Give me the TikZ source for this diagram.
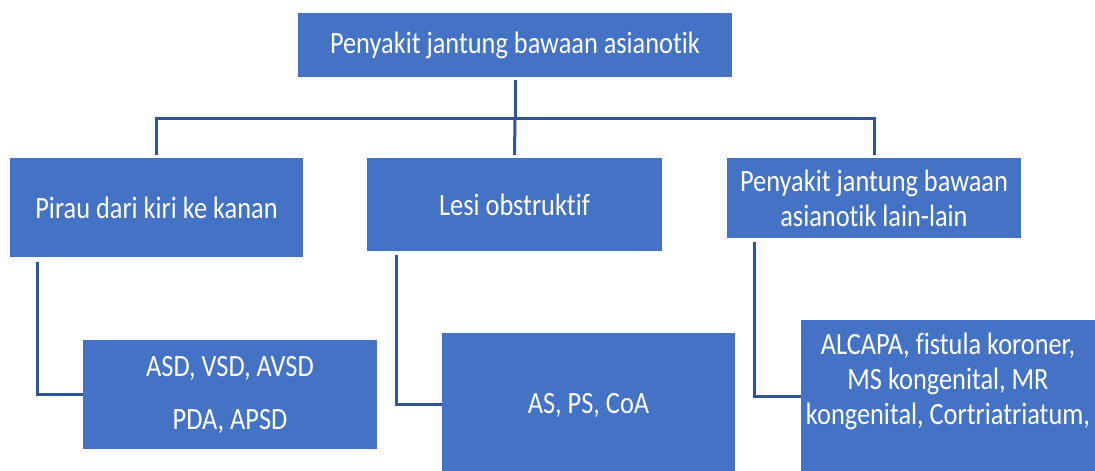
\documentclass[tikz,border=0pt]{standalone}
\usepackage{fontspec}
\setmainfont{Carlito}[FakeStretch=0.85, Ligatures={NoCommon}]
\definecolor{boxblue}{HTML}{4472C4}
\definecolor{lineblue}{HTML}{2F5597}
\tikzset{
  box/.style={fill=boxblue, draw=none, text=white, align=center, inner sep=0pt,
    font=\fontsize{31}{35}\selectfont},
  link/.style={draw=lineblue, line width=3pt},
}
\begin{document}
\begin{tikzpicture}[x=1pt,y=1pt]
\useasboundingbox (0,0) rectangle (1095,471);
\clip (0,0) rectangle (1095,471);

% root of the tree
\node[box, minimum width=434pt, minimum height=64pt] (root) at (515,426)
  {Penyakit jantung bawaan asianotik};

% second level
\node[box, minimum width=293pt, minimum height=99pt] (pirau) at (156.5,263.5)
  {Pirau dari kiri ke kanan};
\node[box, minimum width=295pt, minimum height=93pt] (lesi) at (514.5,266.5)
  {Lesi obstruktif};
\node[box, minimum width=294pt, minimum height=80pt] (lain) at (874,273)
  {Penyakit jantung bawaan\\asianotik lain-lain};

% third level
\node[box, minimum width=294pt, minimum height=109pt] (asd) at (230,76.5)
  {ASD, VSD, AVSD\\[18pt]PDA, APSD};
\node[box, minimum width=293pt, minimum height=144pt] (as) at (588.5,66)
  {AS, PS, CoA};
\node[box, minimum width=294pt, minimum height=154pt] (alcapa) at (948,74)
  {\raisebox{14pt}[\height][\depth]{\begin{tabular}{@{}c@{}}ALCAPA, fistula koroner,\\MS kongenital, MR\\kongenital, Cortriatriatum,\end{tabular}}};

% connectors from the root to the second level
\draw[link] ([yshift=-3pt]root.south) -- ++(0,-38) coordinate (hub);
\draw[link] ([yshift=3pt]pirau.north) |- (hub) -| ([yshift=3pt]lain.north);
\draw[link] (hub) -- ([yshift=3pt]lesi.north);

% elbow connectors to the third level
\draw[link] ([xshift=28pt,yshift=-5pt]pirau.south west) |- (asd.west);
\draw[link] ([xshift=30pt,yshift=-4pt]lesi.south west) |- (as.west);
\draw[link] ([xshift=28pt,yshift=-4pt]lain.south west) |- (alcapa.west);
\end{tikzpicture}
\end{document}
